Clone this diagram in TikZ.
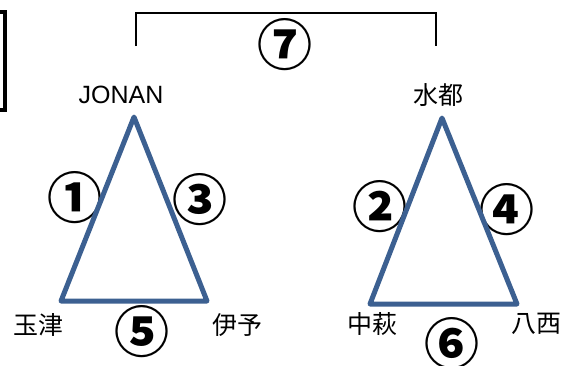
\documentclass[tikz,border=0pt]{standalone}
\usepackage{fontspec}
\setmainfont{Liberation Sans}
\newfontfamily\cjk{Noto Sans CJK JP}
\usepackage{tikz}
\usetikzlibrary{positioning}

\definecolor{sidecolor}{RGB}{60,96,145}

\begin{document}
\begin{tikzpicture}[x=1pt, y=-1pt]

% Custom styles
    \tikzstyle{side} = [draw=sidecolor, line width=5pt, line join=round, line cap=round]
    \tikzstyle{place} = [inner sep=0pt, font=\fontsize{25}{30}\selectfont\cjk]
    \tikzstyle{team} = [inner sep=0pt, font=\fontsize{25}{30}\selectfont]
    \tikzstyle{game} = [inner sep=0pt, font=\fontsize{55}{60}\selectfont\cjk\bfseries]

    \useasboundingbox (0,0) rectangle (567,365);

    % Define vertices
    \coordinate (jonan) at (134,117);
    \coordinate (tamatsu) at (61,301);
    \coordinate (iyo) at (207,301);
    \coordinate (suito) at (442,118);
    \coordinate (nakahagi) at (370,304);
    \coordinate (hassei) at (517,304);

    % Define labels
    \node[team] (jonanlbl) at (121,95) {JONAN};
    \node[place] (suitolbl) at (438,95) {水都};
    \node[place] (tamatsulbl) at (38,325) {玉津};
    \node[place] (iyolbl) at (237,325) {伊予};
    \node[place] (nakahagilbl) at (372,324) {中萩};
    \node[place] (hasseilbl) at (536,324) {八西};

    % Game numbers
    \node[game] (g1) at (75,198) {①};
    \node[game] (g3) at (200,200) {③};
    \node[game] (g2) at (380,207) {②};
    \node[game] (g4) at (507,210) {④};
    \node[game] (g5) at (142,332) {⑤};
    \node[game] (g6) at (452,344) {⑥};
    \node[game] (g7) at (285,45) {⑦};

    % Connect vertices
    \draw[side] (jonan) -- (tamatsu) -- (iyo) -- cycle;
    \draw[side] (suito) -- (nakahagi) -- (hassei) -- cycle;

    % Brackets
    \draw[line width=2.8pt] (136,46) -- (136,13) -- (436,13) -- (436,46);
    \draw[line width=4pt] (0,12) -- (5,12) -- (5,110) -- (0,110);

\end{tikzpicture}
\end{document}
